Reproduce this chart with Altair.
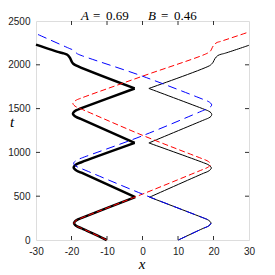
import altair as alt
import pandas as pd

# ---- data (x, t) ----
# thick black (particle 1), split at its sharp contact points
thick_x = [-10.1, -17.1, -18.3, -19.0, -19.3, -19.0, -18.3, -17.1, -2.05,
           -2.05, -17.2, -18.4, -19.1, -19.4, -19.1, -18.4, -17.2, -2.2,
           -2.2, -17.4, -18.6, -19.3, -19.6, -19.3, -18.6, -17.4, -2.2,
           -2.2, -18.9, -19.5, -19.9, -20.5, -21.3, -22.2, -23.2, -30.0]
thick_t = [0, 133, 153, 173, 193, 213, 233, 253, 489,
           489, 768, 788, 808, 828, 848, 868, 888, 1108,
           1108, 1382, 1402, 1422, 1442, 1462, 1482, 1502, 1730,
           1730, 1996, 2012, 2033, 2083, 2117, 2130, 2140, 2231]
thick_seg = [0, 0, 0, 0, 0, 0, 0, 0, 0,
             1, 1, 1, 1, 1, 1, 1, 1, 1,
             2, 2, 2, 2, 2, 2, 2, 2, 2,
             3, 3, 3, 3, 3, 3, 3, 3, 3]

# thin black (particle 2)
thin_x = [10.1, 17.1, 18.3, 19.0, 19.3, 19.0, 18.3, 17.1, 2.0,
          2.0, 17.2, 18.4, 19.1, 19.4, 19.1, 18.4, 17.2, 1.8,
          1.8, 17.4, 18.6, 19.3, 19.5, 19.3, 18.6, 17.4, 1.8,
          1.8, 18.9, 19.5, 19.9, 20.4, 21.2, 22.1, 23.1, 30.0]
thin_t = [0, 133, 153, 173, 193, 213, 233, 253, 489,
          489, 762, 782, 802, 822, 842, 862, 882, 1108,
          1108, 1372, 1392, 1412, 1432, 1452, 1472, 1492, 1730,
          1730, 1990, 2010, 2030, 2070, 2105, 2120, 2130, 2223]
thin_seg = [0, 0, 0, 0, 0, 0, 0, 0, 0,
            1, 1, 1, 1, 1, 1, 1, 1, 1,
            2, 2, 2, 2, 2, 2, 2, 2, 2,
            3, 3, 3, 3, 3, 3, 3, 3, 3]

# red dashed
red_x = [-10.1, -17.1, -18.3, -19.0, -19.3, -19.0, -18.3, -17.1, 0.0,
         17.0, 18.2, 18.9, 19.2, 18.9, 18.2, 17.0, 0.0,
         -17.4, -18.6, -19.3, -19.6, -19.3, -18.6, -17.4, 0.0,
         18.4, 19.2, 19.7, 20.3, 21.0, 22.0, 30.0]
red_t = [0, 133, 153, 173, 193, 213, 233, 253, 524,
         805, 825, 845, 865, 885, 905, 925, 1195,
         1498, 1518, 1538, 1558, 1578, 1598, 1618, 1870,
         2135, 2160, 2200, 2235, 2255, 2267, 2375]

# blue dashed
blue_x = [10.1, 17.1, 18.3, 19.0, 19.3, 19.0, 18.3, 17.1, 0.0,
          -17.2, -18.4, -19.1, -19.4, -19.1, -18.4, -17.2, 0.0,
          17.3, 18.5, 19.2, 19.5, 19.2, 18.5, 17.3, 0.0,
          -17.9, -18.5, -19.0, -19.5, -20.5, -30.0]
blue_t = [0, 133, 153, 173, 193, 213, 233, 253, 524,
          815, 835, 855, 875, 895, 915, 935, 1190,
          1482, 1502, 1522, 1542, 1562, 1582, 1602, 1870,
          2117, 2130, 2150, 2168, 2185, 2356]

x_ticks = [-30, -20, -10, 0, 10, 20, 30]
t_ticks = [0, 500, 1000, 1500, 2000, 2500]
x_inner_ticks = [-20, -10, 0, 10, 20]
t_inner_ticks = [500, 1000, 1500, 2000]


def frame(xs, ts, segs=None):
    n = len(xs)
    return pd.DataFrame({"x": xs, "t": ts,
                         "seg": segs if segs is not None else [0] * n,
                         "i": list(range(n))})


W, H = 213, 219
TL = 4

xsc = alt.Scale(domain=[-30, 30], nice=False, zero=False)
ysc = alt.Scale(domain=[0, 2500], nice=False, zero=False)

common_axis = dict(title=None, ticks=False, domain=False, grid=False,
                   labelFont="Liberation Sans", labelFontSize=10,
                   labelColor="#222", labelPadding=6, labelFlush=False,
                   labelOverlap=False, labelBound=False,
                   labelExpr="'' + datum.value")
xaxis = alt.Axis(values=x_ticks, **common_axis)
yaxis = alt.Axis(values=t_ticks, **common_axis)


def line(df, **mk):
    return alt.Chart(df).mark_line(interpolate="catmull-rom", **mk).encode(
        x=alt.X("x:Q", scale=xsc, axis=xaxis),
        y=alt.Y("t:Q", scale=ysc, axis=yaxis),
        detail="seg:N",
        order="i:Q",
    )


thick = line(frame(thick_x, thick_t, thick_seg), color="black", strokeWidth=2.5)
thin = line(frame(thin_x, thin_t, thin_seg), color="black", strokeWidth=1.0)
red = line(frame(red_x, red_t), color="#ff0000", strokeWidth=1.0, strokeDash=[6, 3])
blue = line(frame(blue_x, blue_t), color="#0000ff", strokeWidth=1.0, strokeDash=[9, 5])

xt = pd.DataFrame({"v": x_inner_ticks})
yt = pd.DataFrame({"v": t_inner_ticks})
tick_col = "#333"
xtick_b = alt.Chart(xt).mark_rule(color=tick_col, strokeWidth=1).encode(
    x=alt.X("v:Q", scale=xsc, axis=xaxis), y=alt.value(H), y2=alt.value(H - TL))
xtick_t = alt.Chart(xt).mark_rule(color=tick_col, strokeWidth=1).encode(
    x=alt.X("v:Q", scale=xsc, axis=xaxis), y=alt.value(0), y2=alt.value(TL))
ytick_l = alt.Chart(yt).mark_rule(color=tick_col, strokeWidth=1).encode(
    y=alt.Y("v:Q", scale=ysc, axis=yaxis), x=alt.value(0), x2=alt.value(TL))
ytick_r = alt.Chart(yt).mark_rule(color=tick_col, strokeWidth=1).encode(
    y=alt.Y("v:Q", scale=ysc, axis=yaxis), x=alt.value(W), x2=alt.value(W - TL))

one = pd.DataFrame({"a": [0]})


def label(txt, x, y, italic=False, size=13, align="left"):
    return alt.Chart(one).mark_text(
        font="Liberation Serif", fontSize=size,
        fontStyle="italic" if italic else "normal",
        align=align, baseline="alphabetic", color="black",
    ).encode(x=alt.value(x), y=alt.value(y), text=alt.value(txt))


TY = -1.5
title_parts = [
    label("A", 45, TY, italic=True),
    label("=", 57, TY),
    label("0.69", 70, TY),
    label("B", 112, TY, italic=True),
    label("=", 125, TY),
    label("0.46", 138, TY),
]
xlab = label("x", 106, 248, italic=True, size=15, align="center")
tlab = label("t", -26, 106, italic=True, size=15)

chart = alt.layer(
    thick, thin, red, blue,
    xtick_b, xtick_t, ytick_l, ytick_r,
    *title_parts, xlab, tlab,
).properties(
    width=W, height=H,
    autosize=alt.AutoSizeParams(type="none"),
    padding={"left": 28, "top": 13, "right": 18, "bottom": 32},
).configure_view(stroke="#222", strokeWidth=1).configure(background="white")

chart.save("out.html", embed_options={"renderer": "svg", "actions": False})
